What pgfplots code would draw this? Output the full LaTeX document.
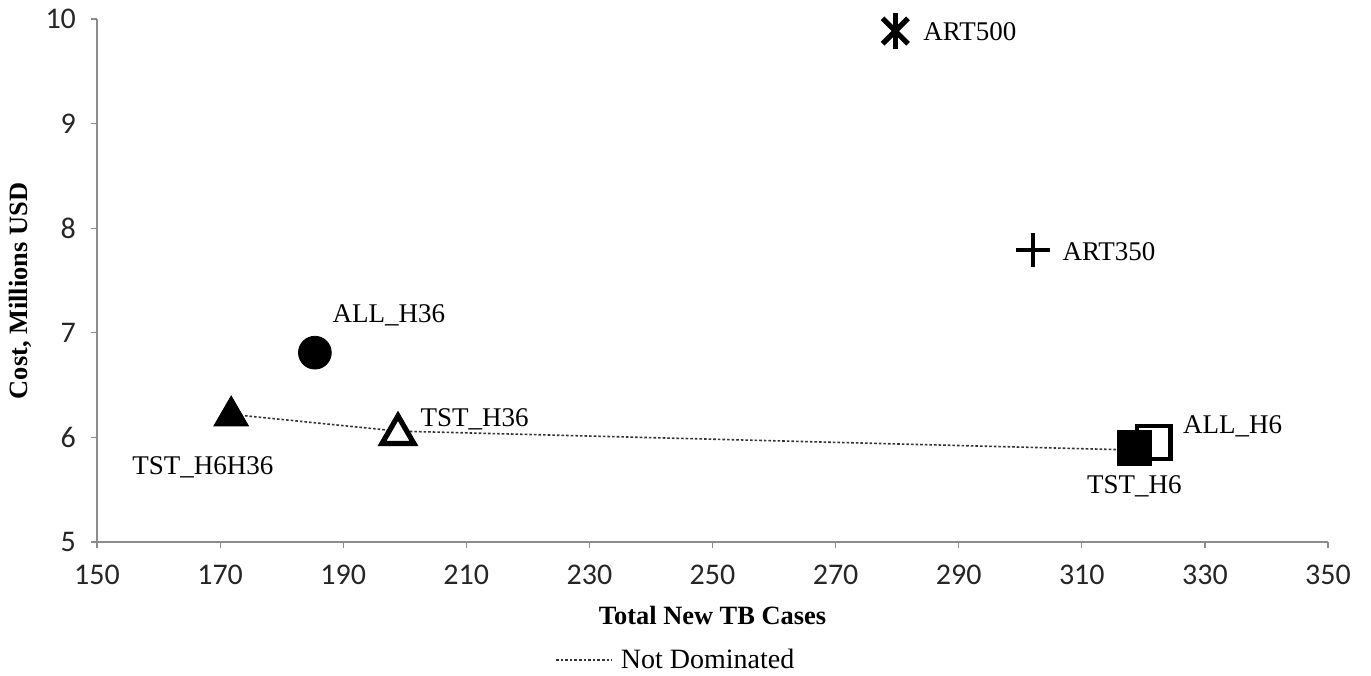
\documentclass[border=0pt]{standalone}
\usepackage{fontspec}
\setmainfont{Liberation Serif}
\newfontfamily\tickfont{Carlito}
\usepackage{pgfplots}
\pgfplotsset{compat=1.18}
\begin{document}
\begin{tikzpicture}
\begin{axis}[
  scale only axis,
  width=615.5pt, height=261.5pt,
  xmin=150, xmax=350, ymin=5, ymax=10,
  xtick={150,170,...,350}, ytick={5,6,...,10},
  axis x line=bottom, axis y line=left,
  axis line style={-, draw=black!45, line width=0.6pt},
  tick style={draw=black!45, line width=0.6pt},
  tick align=outside, major tick length=3pt,
  /pgf/number format/assume math mode=true,
  tick label style={font=\tickfont\fontsize{15}{18}\selectfont, text=black!85},
  xticklabel style={yshift=-5pt},
  yticklabel style={xshift=-4pt},
  xlabel={Total New TB Cases},
  ylabel={Cost, Millions USD},
  label style={font=\bfseries\fontsize{13.2}{15}\selectfont},
  xlabel style={at={(axis description cs:0.5,-0.14)}, anchor=center},
  ylabel style={at={(axis description cs:-0.062,0.48)}, anchor=center},
  clip=false,
  legend style={draw=none, at={(axis description cs:0.471,-0.226)}, anchor=center,
    font=\fontsize{14}{16}\selectfont, inner sep=1pt},
  legend image code/.code={\draw[#1] (0pt,0pt) -- (28pt,0pt);},
]
% Not dominated frontier
\addplot[black!80, line width=0.8pt, dash pattern=on 1.3pt off 1pt] coordinates {
  (171.8,6.22) (198.9,6.06) (318.0,5.88)
};
\addlegendentry{\hspace{2pt}Not Dominated}
% ART500 (star)
\addplot[forget plot, only marks, mark=x, mark size=9pt, mark options={line width=2.6pt, black}] coordinates {(279.7,9.885)};
\addplot[forget plot, only marks, mark=|, mark size=9pt, mark options={line width=2.6pt, black}] coordinates {(279.7,9.885)};
% ART350 (plus)
\addplot[forget plot, only marks, mark=+, mark size=8.5pt, mark options={line width=2.2pt, black}] coordinates {(302.1,7.79)};
% ALL_H36 (filled circle)
\addplot[forget plot, only marks, mark=*, mark size=8.2pt, mark options={fill=black, draw=black}] coordinates {(185.4,6.81)};
% TST_H6H36 (filled triangle)
\addplot[forget plot, only marks, mark=triangle*, mark size=10pt, mark options={fill=black, draw=black}] coordinates {(171.8,6.205)};
% TST_H36 (open triangle)
\addplot[forget plot, only marks, mark=triangle*, mark size=9.2pt, mark options={fill=white, draw=black, line width=2.6pt, line join=miter}] coordinates {(198.9,6.03)};
% ALL_H6 (open square)
\addplot[forget plot, only marks, mark=square*, mark size=8.3pt, mark options={fill=white, draw=black, line width=2.2pt}] coordinates {(321.7,5.95)};
% TST_H6 (filled square)
\addplot[forget plot, only marks, mark=square*, mark size=8.6pt, mark options={fill=black, draw=black}] coordinates {(318.5,5.90)};
% labels
\begin{scope}[every node/.style={font=\fontsize{13.5}{15}\selectfont, inner sep=0pt}]
\node[anchor=base west] at (axis cs:284.2,9.794) {ART500};
\node[anchor=base west] at (axis cs:306.8,7.691) {ART350};
\node[anchor=base west] at (axis cs:188.2,7.098) {ALL\_H36};
\node[anchor=base west] at (axis cs:155.7,5.650) {TST\_H6H36};
\node[anchor=base west] at (axis cs:202.5,6.109) {TST\_H36};
\node[anchor=base west] at (axis cs:326.4,6.042) {ALL\_H6};
\node[anchor=base west] at (axis cs:310.8,5.459) {TST\_H6};
\end{scope}
\end{axis}
\pgfresetboundingbox
\path[use as bounding box] ([shift={(-48.5pt,-66.5pt)}]current axis.south west) rectangle ([shift={(21.5pt,9.5pt)}]current axis.north east);
\end{tikzpicture}
\end{document}
